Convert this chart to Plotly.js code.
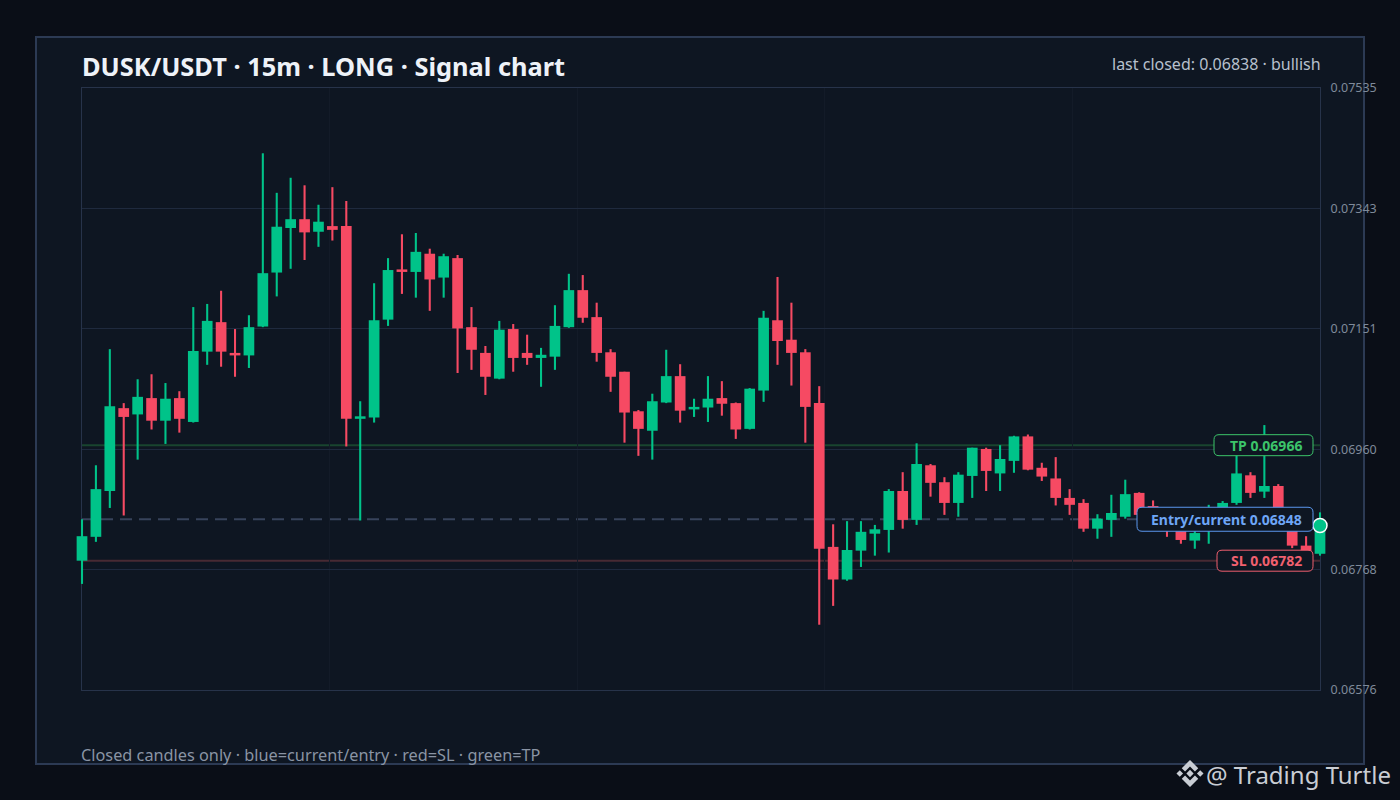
<!DOCTYPE html>
<html>
<head>
<meta charset="utf-8">
<script src="https://cdn.plot.ly/plotly-3.0.1.min.js"></script>
<style>
  html, body { margin: 0; padding: 0; background: #0a0e17; }
  #chart { width: 1400px; height: 800px; }
</style>
</head>
<body>
<div id="chart"></div>
<script>
// ---- data ----
const candleIndex = Array.from({length: 90}, (_, i) => i);

const openPrices = [
0.06782, 0.06820, 0.06893, 0.07025, 0.07015, 0.07041, 0.07005, 0.07041, 0.07003, 0.07115,
0.07162, 0.07113, 0.07109, 0.07155, 0.07241, 0.07312, 0.07326, 0.07306, 0.07315, 0.07315,
0.07008, 0.07010, 0.07166, 0.07246, 0.07242, 0.07271, 0.07233, 0.07264, 0.07154, 0.07113,
0.07072, 0.07151, 0.07113, 0.07105, 0.07107, 0.07154, 0.07213, 0.07170, 0.07114, 0.07083,
0.07020, 0.06989, 0.07034, 0.07076, 0.07023, 0.07026, 0.07041, 0.07033, 0.06992, 0.07053,
0.07165, 0.07134, 0.07114, 0.07033, 0.06804, 0.06752, 0.06798, 0.06825, 0.06831, 0.06893,
0.06847, 0.06934, 0.06907, 0.06874, 0.06917, 0.06960, 0.06921, 0.06941, 0.06980, 0.06930,
0.06913, 0.06882, 0.06874, 0.06833, 0.06847, 0.06852, 0.06890, 0.06869, 0.06847, 0.06832,
0.06814, 0.06831, 0.06855, 0.06874, 0.06918, 0.06892, 0.06901, 0.06848, 0.06806, 0.06793
];
const highPrices = [
0.06848, 0.06934, 0.07119, 0.07033, 0.07071, 0.07079, 0.07065, 0.07052, 0.07186, 0.07191,
0.07212, 0.07151, 0.07173, 0.07431, 0.07368, 0.07392, 0.07380, 0.07349, 0.07377, 0.07355,
0.07036, 0.07224, 0.07264, 0.07302, 0.07304, 0.07279, 0.07271, 0.07269, 0.07186, 0.07124,
0.07164, 0.07159, 0.07142, 0.07121, 0.07189, 0.07239, 0.07237, 0.07193, 0.07119, 0.07083,
0.07022, 0.07048, 0.07118, 0.07095, 0.07040, 0.07076, 0.07068, 0.07034, 0.07057, 0.07180,
0.07234, 0.07193, 0.07119, 0.07060, 0.06840, 0.06845, 0.06845, 0.06839, 0.06896, 0.06923,
0.06969, 0.06936, 0.06915, 0.06923, 0.06962, 0.06962, 0.06966, 0.06981, 0.06983, 0.06938,
0.06947, 0.06896, 0.06880, 0.06856, 0.06887, 0.06911, 0.06891, 0.06878, 0.06856, 0.06840,
0.06836, 0.06871, 0.06877, 0.06963, 0.06923, 0.06998, 0.06904, 0.06856, 0.06821, 0.06859
];
const lowPrices = [
0.06745, 0.06812, 0.06866, 0.06854, 0.06943, 0.06991, 0.06968, 0.06986, 0.07002, 0.07094,
0.07091, 0.07075, 0.07089, 0.07154, 0.07203, 0.07247, 0.07261, 0.07282, 0.07292, 0.06964,
0.06846, 0.07002, 0.07156, 0.07207, 0.07201, 0.07180, 0.07201, 0.07081, 0.07086, 0.07046,
0.07071, 0.07083, 0.07094, 0.07059, 0.07086, 0.07153, 0.07161, 0.07099, 0.07051, 0.06970,
0.06949, 0.06943, 0.07033, 0.07002, 0.07011, 0.07003, 0.07013, 0.06976, 0.06991, 0.07035,
0.07094, 0.07061, 0.06970, 0.06680, 0.06710, 0.06750, 0.06772, 0.06790, 0.06795, 0.06833,
0.06839, 0.06884, 0.06855, 0.06852, 0.06882, 0.06893, 0.06893, 0.06922, 0.06926, 0.06909,
0.06870, 0.06855, 0.06828, 0.06817, 0.06820, 0.06849, 0.06847, 0.06832, 0.06820, 0.06809,
0.06801, 0.06809, 0.06847, 0.06871, 0.06882, 0.06882, 0.06844, 0.06802, 0.06790, 0.06790
];
const closePrices = [
0.06821, 0.06896, 0.07028, 0.07011, 0.07043, 0.07005, 0.07040, 0.07008, 0.07116, 0.07164,
0.07115, 0.07109, 0.07154, 0.07240, 0.07314, 0.07326, 0.07305, 0.07322, 0.07309, 0.07008,
0.07012, 0.07165, 0.07245, 0.07242, 0.07274, 0.07230, 0.07267, 0.07152, 0.07118, 0.07075,
0.07150, 0.07105, 0.07105, 0.07110, 0.07156, 0.07213, 0.07169, 0.07113, 0.07075, 0.07018,
0.06992, 0.07036, 0.07076, 0.07021, 0.07027, 0.07040, 0.07032, 0.06991, 0.07056, 0.07169,
0.07132, 0.07113, 0.07027, 0.06801, 0.06752, 0.06799, 0.06828, 0.06832, 0.06893, 0.06847,
0.06936, 0.06906, 0.06874, 0.06919, 0.06962, 0.06925, 0.06944, 0.06980, 0.06927, 0.06916,
0.06882, 0.06871, 0.06833, 0.06849, 0.06858, 0.06888, 0.06855, 0.06840, 0.06831, 0.06815,
0.06826, 0.06853, 0.06874, 0.06921, 0.06890, 0.06901, 0.06850, 0.06806, 0.06796, 0.06838
];

const entryLevel = 0.06848;
const tpLevel = 0.06966;
const slLevel = 0.06782;
const yMin = 0.06576;
const yMax = 0.07535;
const yTickText = ['0.06576', '0.06768', '0.06960', '0.07151', '0.07343', '0.07535'];

const titleText = 'DUSK/USDT · 15m · LONG · Signal chart';
const footerText = 'Closed candles only · blue=current/entry · red=SL · green=TP';
const watermarkText = '@ Trading Turtle';
const trendWord = 'bullish';

// ---- styling ----
const GREEN = '#00c389';
const RED = '#f64a63';
const FONT = 'Noto Sans, Open Sans, sans-serif';
const FRAME_BG = '#0e1622';

const n = candleIndex.length;
const isUp = candleIndex.map(i => closePrices[i] >= openPrices[i]);
const candleColors = isUp.map(u => u ? GREEN : RED);

const yTickVals = yTickText.map((_, k) => yMin + (yMax - yMin) * k / (yTickText.length - 1));
const xTickVals = [0, 1, 2, 3, 4, 5].map(k => (n - 1) * k / 5);

// layout geometry (pixels): inner plot frame, and a slightly wider area for candles
const IL = 82, IR = 1320, PT = 88, PB = 690;
const OL = 75, OR = 1327;
const px = v => (v - OL) / (OR - OL);
const py = v => (PB - v) / (PB - PT);
const unitPx = (IR - IL) / (n - 1);
const x2Range = [0 - (IL - OL) / unitPx, (n - 1) + (OR - IR) / unitPx];

const wicks = {
  type: 'bar', xaxis: 'x2', yaxis: 'y2',
  x: candleIndex,
  base: lowPrices,
  y: candleIndex.map(i => highPrices[i] - lowPrices[i]),
  width: 0.15,
  marker: { color: candleColors, line: { width: 0 } },
  hoverinfo: 'skip'
};
const bodies = {
  type: 'bar', xaxis: 'x2', yaxis: 'y2',
  x: candleIndex,
  base: candleIndex.map(i => Math.min(openPrices[i], closePrices[i])),
  y: candleIndex.map(i => Math.abs(closePrices[i] - openPrices[i])),
  width: 0.77,
  marker: { color: candleColors, line: { width: 0 } },
  hoverinfo: 'skip'
};
const lastDot = {
  type: 'scatter', mode: 'markers', xaxis: 'x2', yaxis: 'y2',
  x: [candleIndex[n - 1]],
  y: [closePrices[n - 1]],
  marker: { size: 14, color: GREEN, line: { color: '#ffffff', width: 1.5 } },
  cliponaxis: false,
  hoverinfo: 'skip'
};

function roundRect(x0, x1, h, r) {
  return `M ${x0 + r},${-h} L ${x1 - r},${-h} Q ${x1},${-h} ${x1},${-h + r} ` +
         `L ${x1},${h - r} Q ${x1},${h} ${x1 - r},${h} L ${x0 + r},${h} ` +
         `Q ${x0},${h} ${x0},${h - r} L ${x0},${-h + r} Q ${x0},${-h} ${x0 + r},${-h} Z`;
}
function labelBox(level, left, halfH, color) {
  return {
    type: 'path', xref: 'paper', yref: 'y',
    xsizemode: 'pixel', ysizemode: 'pixel',
    xanchor: px(IR), yanchor: level,
    path: roundRect(left, -7, halfH, 5),
    fillcolor: FRAME_BG,
    line: { color: color, width: 1 },
    layer: 'above'
  };
}
// Binance-style logo (pixel path around an anchor)
const s = 16.5;
const P = (a, b) => `${(a * s).toFixed(2)},${(b * s).toFixed(2)}`;
const logoPath =
  `M ${P(0,0.22)} L ${P(0.22,0)} L ${P(0,-0.22)} L ${P(-0.22,0)} Z ` +
  `M ${P(-0.62,0.2)} L ${P(-0.42,0)} L ${P(-0.62,-0.2)} L ${P(-0.82,0)} Z ` +
  `M ${P(0.62,0.2)} L ${P(0.82,0)} L ${P(0.62,-0.2)} L ${P(0.42,0)} Z ` +
  `M ${P(0,0.82)} L ${P(0.5,0.32)} L ${P(0.3,0.12)} L ${P(0,0.42)} L ${P(-0.3,0.12)} L ${P(-0.5,0.32)} Z ` +
  `M ${P(0,-0.82)} L ${P(0.5,-0.32)} L ${P(0.3,-0.12)} L ${P(0,-0.42)} L ${P(-0.3,-0.12)} L ${P(-0.5,-0.32)} Z`;

const shapes = [
  { type: 'rect', xref: 'paper', yref: 'paper',
    x0: px(36), x1: px(1364), y0: py(764), y1: py(37),
    fillcolor: FRAME_BG, line: { color: '#2c3a54', width: 2 }, layer: 'below' },
  { type: 'line', xref: 'paper', yref: 'y', x0: px(IL), x1: px(IR), y0: tpLevel, y1: tpLevel,
    line: { color: '#19452f', width: 2 }, layer: 'below' },
  { type: 'line', xref: 'paper', yref: 'y', x0: px(IL), x1: px(IR), y0: slLevel, y1: slLevel,
    line: { color: '#482a33', width: 2 }, layer: 'below' },
  { type: 'line', xref: 'paper', yref: 'y', x0: px(IL), x1: px(IR), y0: entryLevel, y1: entryLevel,
    line: { color: '#37435b', width: 2, dash: '12px,7px' }, layer: 'below' },
  labelBox(tpLevel, -106, 10.5, '#3cc46a'),
  labelBox(entryLevel, -183, 12, '#5b97ee'),
  labelBox(slLevel, -103, 10.5, '#ef5f6f'),
  { type: 'path', xref: 'paper', yref: 'paper',
    xsizemode: 'pixel', ysizemode: 'pixel',
    xanchor: px(1190), yanchor: py(773.5),
    path: logoPath, fillcolor: '#c9cdd4', line: { width: 0 }, layer: 'above' }
];

const labelX = px(1301);
const annotations = [
  { xref: 'paper', yref: 'paper', x: px(IR), y: py(64), xanchor: 'right', yanchor: 'middle',
    xshift: 3,
    text: `last closed: ${closePrices[n - 1].toFixed(5)} · ${trendWord}`, showarrow: false,
    font: { family: FONT, size: 16, color: '#b7c0cd' } },
  { xref: 'paper', yref: 'paper', x: px(IL), y: py(755), xanchor: 'left', yanchor: 'middle',
    xshift: -3,
    text: footerText, showarrow: false,
    font: { family: FONT, size: 16.3, color: '#8a94a4' } },
  { xref: 'paper', yref: 'paper', x: px(1390), y: py(774), xanchor: 'right', yanchor: 'middle',
    xshift: 3,
    text: watermarkText, showarrow: false,
    font: { family: FONT, size: 24, color: '#c9cdd4' } },
  { xref: 'paper', yref: 'y', x: labelX, y: tpLevel, xanchor: 'right', yanchor: 'middle',
    xshift: 3,
    text: `TP ${tpLevel.toFixed(5)}`, showarrow: false,
    font: { family: FONT, size: 14, color: '#3cc46a', weight: 700 } },
  { xref: 'paper', yref: 'y', x: labelX, y: entryLevel, xanchor: 'right', yanchor: 'middle',
    xshift: 3,
    text: `Entry/current ${entryLevel.toFixed(5)}`, showarrow: false,
    font: { family: FONT, size: 14, color: '#6ea6f7', weight: 700 } },
  { xref: 'paper', yref: 'y', x: labelX, y: slLevel, xanchor: 'right', yanchor: 'middle',
    xshift: 3,
    text: `SL ${slLevel.toFixed(5)}`, showarrow: false,
    font: { family: FONT, size: 14, color: '#f0606f', weight: 700 } }
];

const layout = {
  width: 1400, height: 800,
  margin: { l: OL, r: 1400 - OR, t: PT, b: 800 - PB, pad: 0 },
  paper_bgcolor: '#0a0e17',
  plot_bgcolor: 'rgba(0,0,0,0)',
  showlegend: false,
  barmode: 'overlay',
  hovermode: false,
  title: {
    text: titleText, xref: 'paper', x: px(IL), xanchor: 'left',
    yref: 'container', y: 1 - 67 / 800, yanchor: 'middle',
    font: { family: FONT, size: 25.4, color: '#eef2f8', weight: 700 }
  },
  xaxis: {
    domain: [px(IL), px(IR)], anchor: 'y',
    range: [0, n - 1], tickvals: xTickVals, showticklabels: false, ticks: '',
    showgrid: true, gridcolor: '#131b28', gridwidth: 1,
    showline: true, mirror: true, linecolor: '#27334a', linewidth: 1,
    zeroline: false, fixedrange: true
  },
  yaxis: {
    anchor: 'x', domain: [0, 1],
    range: [yMin, yMax], side: 'right', tickvals: yTickVals, ticktext: yTickText,
    ticks: '', ticklabelstandoff: 7,
    tickfont: { family: FONT, size: 12.5, color: '#7f8a9a' },
    showgrid: true, gridcolor: '#1f2a3e', gridwidth: 1,
    showline: true, mirror: true, linecolor: '#27334a', linewidth: 1,
    zeroline: false, fixedrange: true
  },
  xaxis2: {
    domain: [0, 1], anchor: 'y2', range: x2Range,
    visible: false, showgrid: false, zeroline: false, fixedrange: true
  },
  yaxis2: {
    domain: [0, 1], anchor: 'x2', range: [yMin, yMax],
    visible: false, showgrid: false, zeroline: false, fixedrange: true
  },
  shapes: shapes,
  annotations: annotations
};

Plotly.newPlot('chart', [wicks, bodies, lastDot], layout, { staticPlot: true, displayModeBar: false });
</script>
</body>
</html>
